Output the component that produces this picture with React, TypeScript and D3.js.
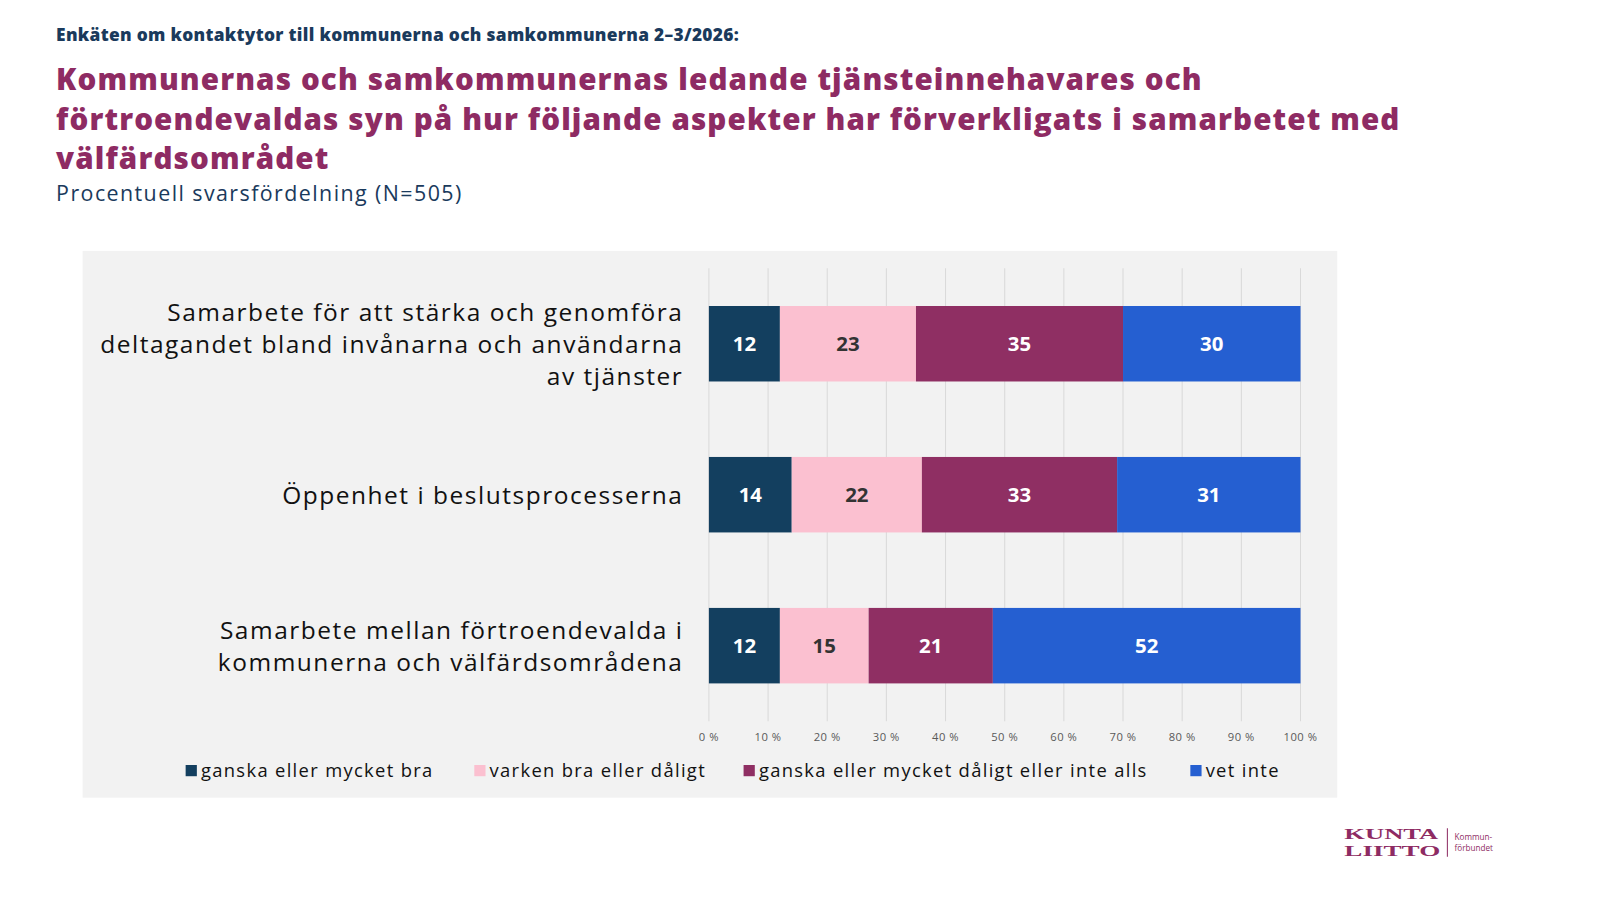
import React from "react";
import * as d3 from "d3";

const categories = [
  ["Samarbete för att stärka och genomföra", "deltagandet bland invånarna och användarna", "av tjänster"],
  ["Öppenhet i beslutsprocesserna"],
  ["Samarbete mellan förtroendevalda i", "kommunerna och välfärdsområdena"],
];
const seriesNames = [
  "ganska eller mycket bra",
  "varken bra eller dåligt",
  "ganska eller mycket dåligt eller inte alls",
  "vet inte",
];
const values = [
  [12, 23, 35, 30],
  [14, 22, 33, 31],
  [12, 15, 21, 52],
];
const colors = ["#133f5f", "#fbc0d0", "#8f2f63", "#255fd1"];
const labelColors = ["#fff", "#333", "#fff", "#fff"];
const ticks = d3.range(0, 101, 10);

const navy = "#1a3a5c";
const purple = "#8e2b63";
const font = "'Open Sans', sans-serif";

export default function App() {
  const x = d3.scaleLinear().domain([0, 100]).range([695, 1275]);
  const y = d3.scaleBand().domain(["0", "1", "2"]).range([263, 707]).paddingInner(0.5).paddingOuter(0.25);
  const stack = values.map((row) => {
    let acc = 0;
    return row.map((v) => {
      const s = acc;
      acc += v;
      return [s, acc];
    });
  });
  const legendX = [182, 465, 729, 1167];
  return (
    <svg width={1600} height={900} style={{ display: "block", margin: -8 }} fontFamily={font}>
      <rect width={1600} height={900} fill="#fff" />
      <g transform="scale(1.02)">
        <text x={55} y={40} fontSize={17} fontWeight={800} fill={navy} letterSpacing={0.3}>
          Enkäten om kontaktytor till kommunerna och samkommunerna 2–3/2026:
        </text>
        {[
          "Kommunernas och samkommunernas ledande tjänsteinnehavares och",
          "förtroendevaldas syn på hur följande aspekter har förverkligats i samarbetet med",
          "välfärdsområdet",
        ].map((t, i) => (
          <text key={i} x={55} y={88 + i * 39} fontSize={29} fontWeight={800} fill={purple} letterSpacing={1.1}>
            {t}
          </text>
        ))}
        <text x={55} y={197} fontSize={21} fill={navy} letterSpacing={1.4}>
          Procentuell svarsfördelning (N=505)
        </text>
        <rect x={81} y={246} width={1230} height={536} fill="#f2f2f2" />
        {ticks.map((t) => (
          <g key={t}>
            <line x1={x(t)} x2={x(t)} y1={263} y2={707} stroke="#d9d9d9" />
            <text x={x(t)} y={726} fontSize={11} fill="#595959" textAnchor="middle" letterSpacing={0.5}>
              {t} %
            </text>
          </g>
        ))}
        {values.map((row, i) => {
          const y0 = y(String(i))!;
          const h = y.bandwidth();
          const lines = categories[i];
          return (
            <g key={i}>
              {lines.map((l, j) => (
                <text
                  key={j}
                  x={670}
                  y={y0 + h / 2 + 9 + (j - (lines.length - 1) / 2) * 31}
                  fontSize={24}
                  textAnchor="end"
                  fill="#111"
                  letterSpacing={1.5}
                >
                  {l}
                </text>
              ))}
              {row.map((v, k) => {
                const [a, b] = stack[i][k];
                return (
                  <g key={k}>
                    <rect x={x(a)} y={y0} width={x(b) - x(a)} height={h} fill={colors[k]} />
                    <text
                      x={(x(a) + x(b)) / 2}
                      y={y0 + h / 2 + 7}
                      fontSize={20}
                      fontWeight={700}
                      textAnchor="middle"
                      fill={labelColors[k]}
                    >
                      {v}
                    </text>
                  </g>
                );
              })}
            </g>
          );
        })}
        {seriesNames.map((n, k) => (
          <g key={k}>
            <rect x={legendX[k]} y={750} width={11} height={11} fill={colors[k]} />
            <text x={legendX[k] + 15} y={762} fontSize={18} fill="#111" letterSpacing={1.3}>
              {n}
            </text>
          </g>
        ))}
        <text x={1318} y={823} fontSize={15} fontWeight={800} fill={purple} fontFamily="'Liberation Serif', serif" textLength={92} lengthAdjust="spacingAndGlyphs">
          KUNTA
        </text>
        <text x={1318} y={839} fontSize={15} fontWeight={800} fill={purple} fontFamily="'Liberation Serif', serif" textLength={94} lengthAdjust="spacingAndGlyphs">
          LIITTO
        </text>
        <line x1={1419} x2={1419} y1={812} y2={840} stroke={purple} />
        <text x={1426} y={824} fontSize={8} fill={purple}>Kommun-</text>
        <text x={1426} y={834} fontSize={8} fill={purple}>förbundet</text>
      </g>
    </svg>
  );
}
